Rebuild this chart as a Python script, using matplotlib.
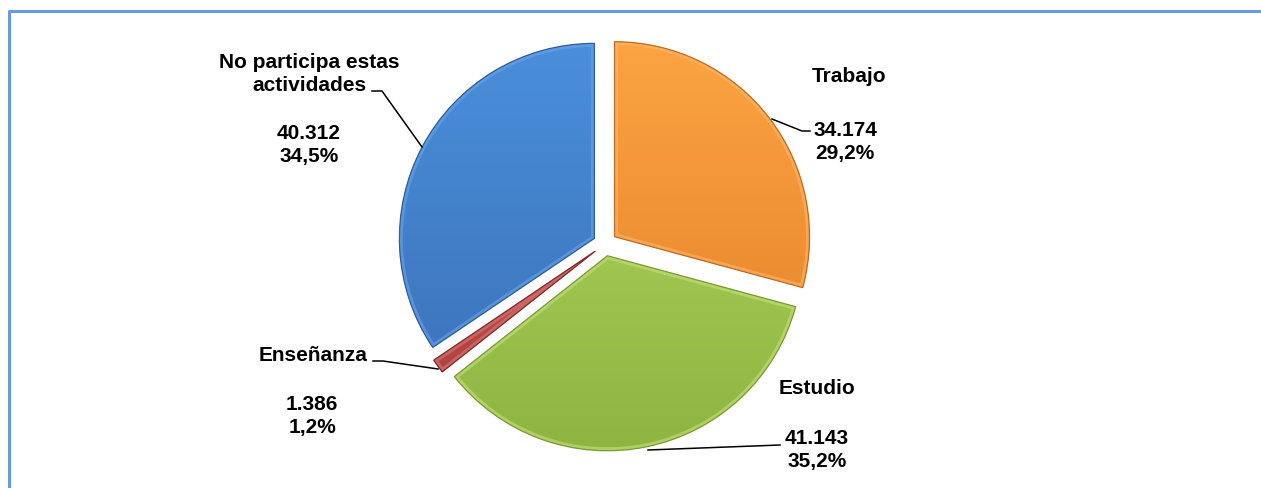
import numpy as np
import matplotlib
matplotlib.use("Agg")
import matplotlib.pyplot as plt
from matplotlib.colors import LinearSegmentedColormap
from matplotlib.patches import Wedge

categories = ["Trabajo", "Estudio", "Enseñanza", "No participa estas\nactividades"]
values = [34174, 41143, 1386, 40312]
value_labels = ["34.174", "41.143", "1.386", "40.312"]
pct_labels = ["29,2%", "35,2%", "1,2%", "34,5%"]

W, H = 1261, 489
fig = plt.figure(figsize=(W / 100, H / 100), dpi=100)
ax = fig.add_axes([0, 0, 1, 1])

def Y(py):
    return H - py

center = (605, Y(245))
radius = 195
wedges, _ = ax.pie(values, startangle=90, counterclock=False, radius=radius,
                   center=center, explode=[12] * 4, frame=True,
                   wedgeprops=dict(linewidth=0.8))
ax.set_xlim(0, W)
ax.set_ylim(0, H)
ax.set_aspect("equal")
ax.axis("off")

grads = [("#FBA443", "#E47E28", "#C06A22", "#FDB666"),
         ("#B2D65E", "#8FB442", "#7A9A38", "#C4E27A"),
         ("#D0615E", "#A93C39", "#7E2A28", "#D87A78"),
         ("#4A8FDC", "#3A6FB5", "#2F5E9A", "#6AA4E6")]
for w, (c1, c2, ec, hl) in zip(wedges, grads):
    w.set_facecolor(c2)
    w.set_edgecolor("none")
    cmap = LinearSegmentedColormap.from_list("g", [c2, c1])
    grad = np.linspace(0, 1, 256).reshape(-1, 1)
    ymin = w.center[1] - w.r
    ymax = w.center[1] + w.r
    im = ax.imshow(grad, cmap=cmap, extent=[0, W, ymin, ymax], origin="lower",
                   aspect="auto", zorder=w.get_zorder() + 0.1)
    im.set_clip_path(w)
    bevel = Wedge(w.center, w.r, w.theta1, w.theta2, facecolor="none",
                  edgecolor=hl, linewidth=5, alpha=0.6, zorder=w.get_zorder() + 0.15)
    ax.add_patch(bevel)
    bevel.set_clip_path(w)
    ax.add_patch(Wedge(w.center, w.r, w.theta1, w.theta2, facecolor="none",
                       edgecolor=ec, linewidth=0.9, zorder=w.get_zorder() + 0.2))

ax.set_xlim(0, W)
ax.set_ylim(0, H)

fp = dict(fontsize=15, fontweight="bold", family=["Liberation Sans", "DejaVu Sans"],
          ha="center", va="center", color="black", linespacing=1.3)

# labels
ax.text(849, Y(77), categories[0], **fp)
ax.text(845, Y(142), value_labels[0] + "\n" + pct_labels[0], **fp)
ax.text(817, Y(389), categories[1], **fp)
ax.text(817, Y(450), value_labels[1] + "\n" + pct_labels[1], **fp)
ax.text(313, Y(356), categories[2], **fp)
ax.text(312, Y(416), value_labels[2] + "\n" + pct_labels[2], **fp)
ax.text(309, Y(74), categories[3], **fp)
ax.text(309, Y(145), value_labels[3] + "\n" + pct_labels[3], **fp)

# leader lines
lk = dict(color="black", linewidth=1.1, zorder=10)
ax.plot([772, 802, 810], [Y(120), Y(132), Y(132)], **lk)
ax.plot([648, 780], [Y(451), Y(446)], **lk)
ax.plot([373, 383, 438], [Y(362), Y(362), Y(370)], **lk)
ax.plot([372, 382, 422], [Y(92), Y(92), Y(148)], **lk)

# border
ax.plot([9, 9, W + 5], [-5, Y(11.5), Y(11.5)], color="#6A9BE0", linewidth=2.2,
        solid_capstyle="butt", zorder=20)

fig.savefig("out.png", dpi=100)
